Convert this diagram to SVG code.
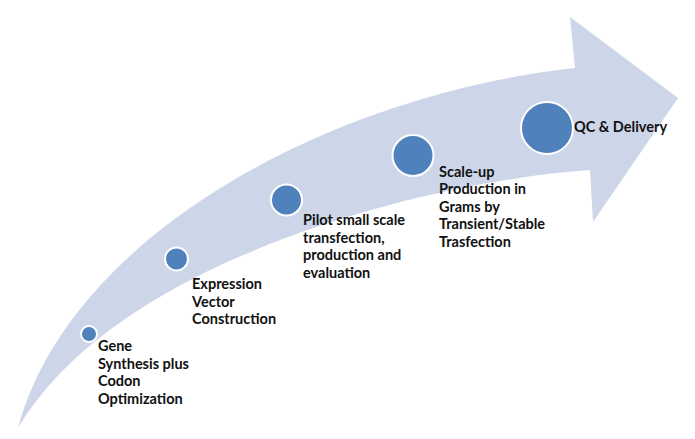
<svg xmlns="http://www.w3.org/2000/svg" width="695" height="439" viewBox="0 0 695 439">
<style>
.arrow{fill:#cdd6e8;stroke:none}
.dot{fill:#4f81bd;stroke:#ffffff;stroke-width:2}
.lbl{font-family:Lato,"Liberation Sans",sans-serif;font-weight:bold;font-size:14.5px;fill:#111111}
</style>
<rect width="695" height="439" fill="#ffffff"/>
<g id="connectors">
<path class="arrow" d="M18,428 C70,235 330,95 575,68 L570,17 L678,98 L593,222 L590,170 C440,180 120,255 18,428 Z"/>
</g>
<g id="node-gene">
<circle class="dot" cx="89" cy="334" r="8"/>
<text class="lbl" x="98" y="351">Gene</text>
<text class="lbl" x="98" y="369">Synthesis plus</text>
<text class="lbl" x="98" y="386">Codon</text>
<text class="lbl" x="98" y="404">Optimization</text>
</g>
<g id="node-expression">
<circle class="dot" cx="176.5" cy="259" r="11.5"/>
<text class="lbl" x="192" y="289">Expression</text>
<text class="lbl" x="192" y="307">Vector</text>
<text class="lbl" x="192" y="324">Construction</text>
</g>
<g id="node-pilot">
<circle class="dot" cx="286.5" cy="200" r="15.5"/>
<text class="lbl" x="303" y="225">Pilot small scale</text>
<text class="lbl" x="303" y="243">transfection,</text>
<text class="lbl" x="303" y="260">production and</text>
<text class="lbl" x="303" y="278">evaluation</text>
</g>
<g id="node-scaleup">
<circle class="dot" cx="413" cy="155.5" r="20.5"/>
<text class="lbl" x="439" y="177">Scale-up</text>
<text class="lbl" x="439" y="194">Production in</text>
<text class="lbl" x="439" y="212">Grams by</text>
<text class="lbl" x="439" y="229">Transient/Stable</text>
<text class="lbl" x="439" y="247">Trasfection</text>
</g>
<g id="node-qc">
<circle class="dot" cx="547" cy="128" r="26"/>
<text class="lbl" x="574" y="132">QC &amp; Delivery</text>
</g>
</svg>
